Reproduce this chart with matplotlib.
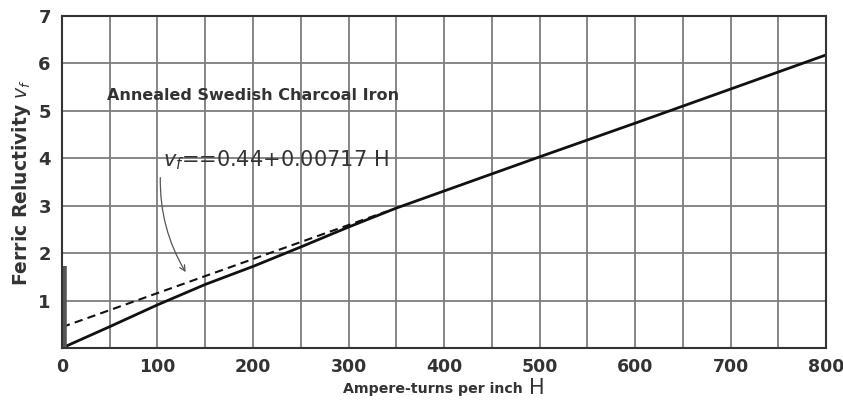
import matplotlib
matplotlib.use("Agg")
import matplotlib.pyplot as plt

# Data
H_solid = [0, 50, 100, 150, 200, 250, 300, 350, 400, 500, 600, 700, 800]
v_solid = [0, 0.45, 0.91, 1.34, 1.72, 2.13, 2.55, 2.95, 3.31, 4.03, 4.74, 5.46, 6.18]
H_dashed = [0, 340]
v_dashed = [0.44, 2.88]
bar_H = [2, 2]
bar_v = [0, 1.72]

x_ticks = [0, 100, 200, 300, 400, 500, 600, 700, 800]
x_minor = [50, 150, 250, 350, 450, 550, 650, 750]
y_ticks = [1, 2, 3, 4, 5, 6, 7]

title_text = "Annealed Swedish Charcoal Iron"
eq_text = r"$v_f$==0.44+0.00717 H"

plt.rcParams['font.family'] = ['DejaVu Sans']
fig = plt.figure(figsize=(8.43, 4.0), dpi=100)
ax = fig.add_axes([0.0735, 0.13, 0.9065, 0.83])

ax.set_xlim(0, 800)
ax.set_ylim(0, 7)
ax.set_xticks(x_ticks)
ax.set_xticks(x_minor, minor=True)
ax.set_yticks(y_ticks)
ax.grid(True, which='both', color='#7d7d7d', linewidth=1.3)
ax.set_axisbelow(True)
ax.tick_params(which='both', length=0)
ax.tick_params(axis='x', pad=7, labelsize=12.5, labelcolor='#333333')
ax.tick_params(axis='y', pad=8, labelsize=13, labelcolor='#333333')
for lab in ax.get_xticklabels() + ax.get_yticklabels():
    lab.set_fontweight('bold')
for s in ax.spines.values():
    s.set_color('#333333')
    s.set_linewidth(1.5)

ax.plot(H_solid, v_solid, color='#111111', linewidth=2.0, solid_capstyle='butt')
ax.plot(H_dashed, v_dashed, color='#111111', linewidth=1.5, dashes=(4, 2.5))
ax.plot(bar_H, bar_v, color='#555555', linewidth=4, solid_capstyle='butt')

ax.text(47, 5.33, title_text, fontsize=11.5, color='#333333', va='center', ha='left',
        fontweight='bold')
ax.text(106, 3.97, eq_text, fontsize=15, color='#333333', va='center', ha='left')
ax.annotate("", xy=(131, 1.55), xytext=(103, 3.65),
            arrowprops=dict(arrowstyle='->', color='#555555', lw=0.9,
                            connectionstyle='arc3,rad=0.15'))

ax.set_ylabel(r"Ferric Reluctivity $v_f$", fontsize=13.5, color='#333333',
              fontweight='bold', labelpad=4)
fig.text(0.514, 0.028, "Ampere-turns per inch", fontsize=10.2, color='#333333',
         ha='center', va='center', fontweight='bold')
fig.text(0.628, 0.03, "H", fontsize=15, color='#333333', ha='left', va='center')

fig.savefig("out.png", dpi=100)
